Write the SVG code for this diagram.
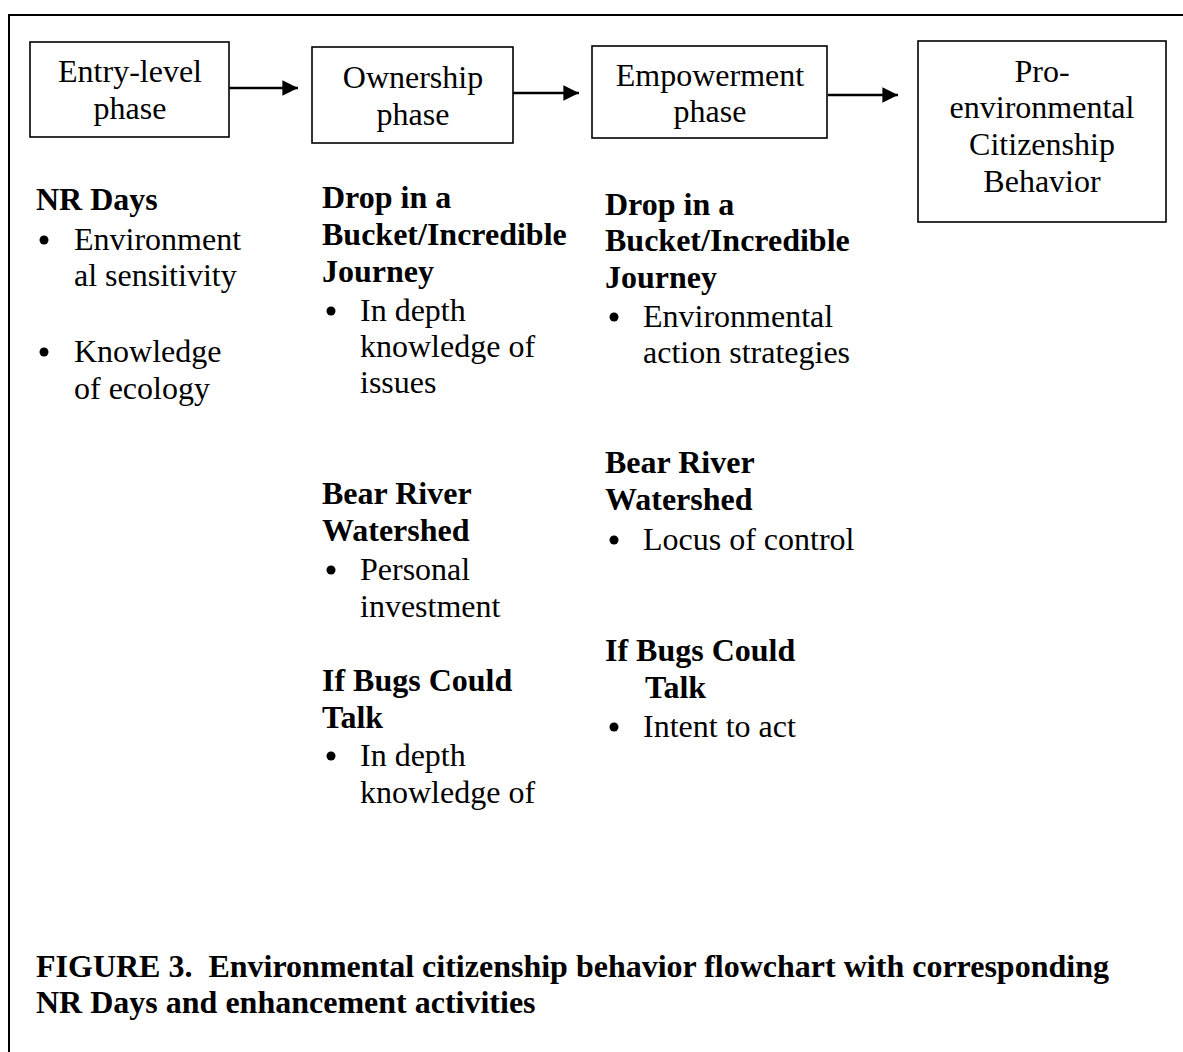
<svg xmlns="http://www.w3.org/2000/svg" width="1183" height="1052" viewBox="0 0 1183 1052">
<defs>
<style>
text{font-family:"Liberation Serif","Times New Roman",serif;font-size:32px;fill:#000}
.b{font-weight:bold}
.c{text-anchor:middle}
.box{fill:#fff;stroke:#000;stroke-width:1.6}
.conn{stroke:#000;stroke-width:2.4;fill:none}
.dot{fill:#000}
</style>
<marker id="ah" viewBox="0 0 10 10" refX="10" refY="5" markerWidth="6.5" markerHeight="6.5" markerUnits="strokeWidth" orient="auto">
<path d="M0,0 L10,5 L0,10 Z" fill="#000"/>
</marker>
</defs>
<rect x="0" y="0" width="1183" height="1052" fill="#fff"/>
<rect id="frame" x="9" y="15" width="1200" height="1060" fill="none" stroke="#000" stroke-width="2"/>

<g id="connectors">
<line class="conn" x1="229" y1="88" x2="298" y2="88" marker-end="url(#ah)"/>
<line class="conn" x1="511" y1="93" x2="579" y2="93" marker-end="url(#ah)"/>
<line class="conn" x1="828" y1="95" x2="898" y2="95" marker-end="url(#ah)"/>
</g>

<g id="entry">
<rect class="box" x="30" y="42" width="199" height="95"/>
<text class="c" x="130" y="82">Entry-level</text>
<text class="c" x="130" y="119">phase</text>
</g>
<g id="ownership">
<rect class="box" x="312" y="47" width="201" height="96"/>
<text class="c" x="413" y="88">Ownership</text>
<text class="c" x="413" y="125">phase</text>
</g>
<g id="empowerment">
<rect class="box" x="592" y="46" width="235" height="92"/>
<text class="c" x="710" y="86">Empowerment</text>
<text class="c" x="710" y="122">phase</text>
</g>
<g id="citizenship">
<rect class="box" x="918" y="41" width="248" height="181"/>
<text class="c" x="1042" y="82">Pro-</text>
<text class="c" x="1042" y="118">environmental</text>
<text class="c" x="1042" y="155">Citizenship</text>
<text class="c" x="1042" y="192">Behavior</text>
</g>

<g id="col-entry">
<text class="b" x="36" y="210">NR Days</text>
<circle class="dot" cx="44" cy="240" r="4.5"/>
<text x="74" y="250">Environment</text>
<text x="74" y="286">al sensitivity</text>
<circle class="dot" cx="44" cy="352" r="4.5"/>
<text x="74" y="362">Knowledge</text>
<text x="74" y="399">of ecology</text>
</g>

<g id="col-ownership">
<text class="b" x="322" y="208">Drop in a</text>
<text class="b" x="322" y="245">Bucket/Incredible</text>
<text class="b" x="322" y="282">Journey</text>
<circle class="dot" cx="331" cy="311" r="4.5"/>
<text x="360" y="321">In depth</text>
<text x="360" y="357">knowledge of</text>
<text x="360" y="393">issues</text>
<text class="b" x="322" y="504">Bear River</text>
<text class="b" x="322" y="541">Watershed</text>
<circle class="dot" cx="331" cy="570" r="4.5"/>
<text x="360" y="580">Personal</text>
<text x="360" y="617">investment</text>
<text class="b" x="322" y="691">If Bugs Could</text>
<text class="b" x="322" y="728">Talk</text>
<circle class="dot" cx="331" cy="756" r="4.5"/>
<text x="360" y="766">In depth</text>
<text x="360" y="803">knowledge of</text>
</g>

<g id="col-empowerment">
<text class="b" x="605" y="215">Drop in a</text>
<text class="b" x="605" y="251">Bucket/Incredible</text>
<text class="b" x="605" y="288">Journey</text>
<circle class="dot" cx="614" cy="317" r="4.5"/>
<text x="643" y="327">Environmental</text>
<text x="643" y="363">action strategies</text>
<text class="b" x="605" y="473">Bear River</text>
<text class="b" x="605" y="510">Watershed</text>
<circle class="dot" cx="614" cy="540" r="4.5"/>
<text x="643" y="550">Locus of control</text>
<text class="b" x="605" y="661">If Bugs Could</text>
<text class="b" x="645" y="698">Talk</text>
<circle class="dot" cx="614" cy="727" r="4.5"/>
<text x="643" y="737">Intent to act</text>
</g>

<g id="caption">
<text class="b" x="36" y="977" xml:space="preserve">FIGURE 3.  Environmental citizenship behavior flowchart with corresponding</text>
<text class="b" x="36" y="1013">NR Days and enhancement activities</text>
</g>
</svg>
